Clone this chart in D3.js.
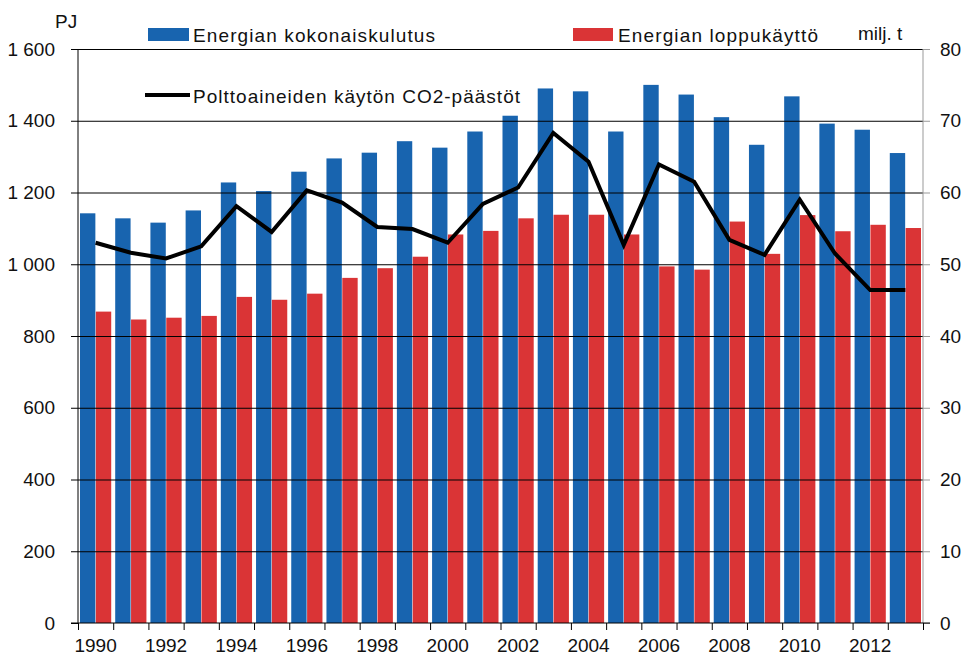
<!DOCTYPE html>
<html>
<head>
<meta charset="utf-8">
<script src="https://cdn.jsdelivr.net/npm/d3@7"></script>
<style>
  body { margin: 0; background: #fff; }
  text { font-family: "Liberation Sans", Arial, sans-serif; fill: #111; }
</style>
</head>
<body>
<div id="kaavio"></div>
<script>
// vuodet ja sarjat
var vuodet = [1990, 1991, 1992, 1993, 1994, 1995, 1996, 1997, 1998, 1999, 2000, 2001,
              2002, 2003, 2004, 2005, 2006, 2007, 2008, 2009, 2010, 2011, 2012, 2013];
var kokonaiskulutus = [1142, 1128, 1116, 1150, 1228, 1204, 1258, 1295, 1311, 1343, 1325, 1370,
                       1414, 1490, 1482, 1370, 1500, 1473, 1410, 1333, 1468, 1392, 1375, 1310];
var loppukaytto = [868, 846, 851, 856, 909, 901, 918, 962, 989, 1021, 1083, 1093,
                   1128, 1138, 1138, 1083, 994, 985, 1119, 1029, 1137, 1092, 1110, 1101];
var co2 = [53.0, 51.6, 50.8, 52.5, 58.1, 54.5, 60.3, 58.6, 55.2, 54.9, 53.0, 58.4,
           60.7, 68.3, 64.3, 52.7, 63.9, 61.5, 53.4, 51.3, 59.0, 51.5, 46.4, 46.4];
var vasenTikit = [0, 200, 400, 600, 800, 1000, 1200, 1400, 1600];
var oikeaTikit = [0, 10, 20, 30, 40, 50, 60, 70, 80];

var sininen = "#1864af";
var punainen = "#da3436";

var marginaali = {top: 49, right: 43, bottom: 33, left: 78};
var leveys = 966, korkeus = 656;
var pLeveys = leveys - marginaali.left - marginaali.right;
var pKorkeus = korkeus - marginaali.top - marginaali.bottom;

var svg = d3.select("#kaavio").append("svg")
    .attr("width", leveys)
    .attr("height", korkeus)
    .style("background-color", "#fff");

var x = d3.scaleBand().domain(vuodet).range([0, pLeveys]).padding(0);
var xReuna = d3.scaleLinear().domain([1990, 2014]).range([0, pLeveys]);
var x1 = d3.scaleBand().domain(["kok", "lop"]).range([0, x.bandwidth()])
    .paddingInner(0.03).paddingOuter(0.126);
var yV = d3.scaleLinear().domain([0, 1600]).range([pKorkeus, 0]);
var yO = d3.scaleLinear().domain([0, 80]).range([pKorkeus, 0]);

var g = svg.append("g").attr("transform", "translate(" + marginaali.left + "," + marginaali.top + ")");

// pylväät
var rivit = vuodet.map(function(v, i) {
    return {vuosi: v, kok: kokonaiskulutus[i], lop: loppukaytto[i], co2: co2[i]};
});

g.selectAll(".kok").data(rivit).enter().append("rect")
    .attr("x", function(d) { return x(d.vuosi) + x1("kok"); })
    .attr("y", function(d) { return yV(d.kok); })
    .attr("width", x1.bandwidth())
    .attr("height", function(d) { return pKorkeus - yV(d.kok); })
    .style("fill", sininen);

g.selectAll(".lop").data(rivit).enter().append("rect")
    .attr("x", function(d) { return x(d.vuosi) + x1("lop"); })
    .attr("y", function(d) { return yV(d.lop); })
    .attr("width", x1.bandwidth())
    .attr("height", function(d) { return pKorkeus - yV(d.lop); })
    .style("fill", punainen);

// vaakaviivat
g.append("g")
    .call(d3.axisLeft(yV).tickValues(vasenTikit.slice(1)).tickSize(-pLeveys).tickFormat(""))
    .call(function(s) { s.select(".domain").remove(); })
    .selectAll("line").attr("stroke", "#000");

// CO2-viiva
var viiva = d3.line()
    .x(function(d) { return x(d.vuosi) + x.bandwidth() / 2; })
    .y(function(d) { return yO(d.co2); });

g.append("path")
    .datum(rivit)
    .attr("d", viiva)
    .style("fill", "none")
    .style("stroke", "#000")
    .style("stroke-width", 4);

// vasen akseli
var vasen = g.append("g")
    .call(d3.axisLeft(yV).tickValues(vasenTikit).tickSize(7).tickPadding(16)
        .tickFormat(function(d) { return d3.format(",")(d).replace(",", " "); }));
vasen.select(".domain").attr("d", "M0," + pKorkeus + "V0").attr("stroke", "#000");
vasen.selectAll("line").attr("stroke", "#000");
vasen.selectAll("text").style("font-size", "19px").style("font-family", "Liberation Sans, Arial").attr("fill", "#111");

// oikea akseli
var oikea = g.append("g").attr("transform", "translate(" + pLeveys + ",0)")
    .call(d3.axisRight(yO).tickValues(oikeaTikit).tickSize(7).tickPadding(10));
oikea.select(".domain").attr("d", "M0," + pKorkeus + "V0").attr("stroke", "#999");
oikea.selectAll("line").attr("stroke", "#999");
oikea.selectAll("text").style("font-size", "19px").style("font-family", "Liberation Sans, Arial").attr("fill", "#111");

// ala-akseli
var ala = g.append("g").attr("transform", "translate(0," + pKorkeus + ")")
    .call(d3.axisBottom(xReuna).tickValues(d3.range(1990, 2015)).tickSize(7).tickFormat(""));
ala.select(".domain").attr("d", "M-7,0H" + (pLeveys + 7)).attr("stroke", "#000");
ala.selectAll("line").attr("stroke", "#000");

g.append("g").attr("transform", "translate(0," + pKorkeus + ")")
    .selectAll("text")
    .data(vuodet.filter(function(v) { return v % 2 === 0; }))
    .enter().append("text")
    .attr("x", function(d) { return x(d) + x.bandwidth() / 2; })
    .attr("y", 29)
    .attr("text-anchor", "middle")
    .style("font-size", "19px")
    .text(function(d) { return d; });

// yksiköt
svg.append("text").attr("x", 55).attr("y", 28).style("font-size", "19px").text("PJ");
svg.append("text").attr("x", 858).attr("y", 40).style("font-size", "19px").text("milj. t");

// selitteet
svg.append("rect").attr("x", 148).attr("y", 28).attr("width", 41).attr("height", 13).style("fill", sininen);
svg.append("text").attr("x", 193).attr("y", 42).style("font-size", "19px")
    .attr("textLength", 242).attr("lengthAdjust", "spacing").text("Energian kokonaiskulutus");

svg.append("rect").attr("x", 573).attr("y", 28).attr("width", 40).attr("height", 13).style("fill", punainen);
svg.append("text").attr("x", 618).attr("y", 42).style("font-size", "19px")
    .attr("textLength", 200).attr("lengthAdjust", "spacing").text("Energian loppukäyttö");

svg.append("line").attr("x1", 145).attr("x2", 190).attr("y1", 95).attr("y2", 95)
    .style("stroke", "#000").style("stroke-width", 4);
svg.append("text").attr("x", 193).attr("y", 103).style("font-size", "19px")
    .attr("textLength", 327).attr("lengthAdjust", "spacing").text("Polttoaineiden käytön CO2-päästöt");
</script>
</body>
</html>
